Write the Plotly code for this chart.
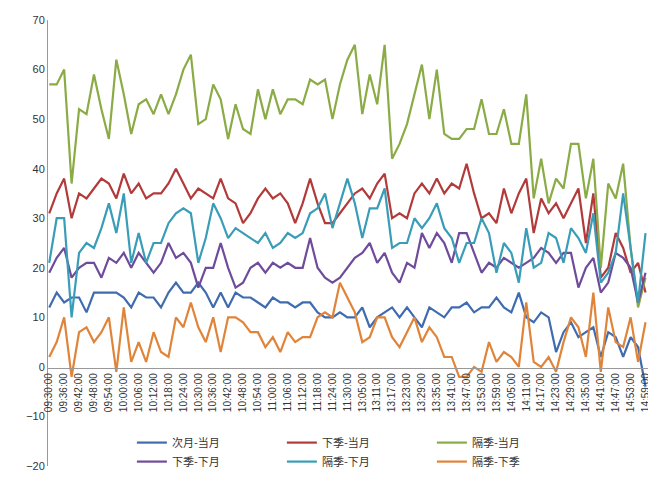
import plotly.graph_objects as go

# trading minutes 09:30-11:30, 13:00-14:59
times = []
for m in range(9 * 60 + 30, 11 * 60 + 31):
    times.append("%02d:%02d:00" % (m // 60, m % 60))
for m in range(13 * 60, 15 * 60):
    times.append("%02d:%02d:00" % (m // 60, m % 60))

sample_times = times[::3]
tick_labels = times[::6]

next_vs_cur = [12, 15, 13, 14, 14, 11, 15, 15, 15, 15, 14, 12, 15, 14, 14, 12, 15, 17, 15, 15, 17,
               15, 12, 15, 12, 15, 14, 14, 13, 12, 14, 13, 13, 12, 13, 13, 11, 10, 10, 11, 10,
               10, 12, 8, 10, 11, 12, 10, 12, 10, 8, 12, 11, 10, 12, 12, 13, 11, 12, 12, 14,
               12, 11, 15, 10, 9, 11, 10, 3, 7, 9, 6, 7, 8, 2, 7, 6, 2, 6, 4, -4]
nextq_vs_cur = [31, 35, 38, 30, 35, 34, 36, 38, 37, 34, 39, 35, 37, 34, 35, 35, 37, 40, 37, 34, 36,
                35, 34, 38, 34, 33, 29, 31, 34, 36, 34, 35, 33, 29, 33, 38, 33, 29, 29, 31, 33,
                35, 36, 34, 37, 39, 30, 31, 30, 35, 37, 35, 38, 35, 37, 36, 41, 35, 30, 31, 29,
                36, 31, 35, 38, 27, 34, 31, 33, 30, 33, 36, 25, 35, 18, 20, 27, 24, 19, 21, 15]
farq_vs_cur = [57, 57, 60, 37, 52, 51, 59, 52, 46, 62, 55, 47, 53, 54, 51, 55, 51, 55, 60, 63, 49,
               50, 57, 54, 46, 53, 48, 47, 56, 50, 56, 51, 54, 54, 53, 58, 57, 58, 50, 57, 62,
               65, 51, 59, 53, 65, 42, 45, 49, 55, 61, 50, 60, 47, 46, 46, 48, 48, 54, 47, 47,
               52, 45, 45, 55, 34, 42, 33, 38, 36, 45, 45, 34, 42, 20, 37, 34, 41, 24, 12, 18]
nextq_vs_next = [19, 22, 24, 18, 20, 21, 21, 18, 22, 21, 23, 20, 23, 21, 19, 21, 25, 22, 23, 21, 16,
                 20, 20, 25, 20, 16, 17, 20, 21, 19, 21, 20, 21, 20, 20, 26, 20, 18, 17, 18, 20,
                 22, 23, 25, 21, 23, 19, 17, 21, 20, 27, 24, 27, 25, 21, 27, 27, 23, 19, 21, 20,
                 22, 21, 20, 21, 22, 24, 23, 21, 23, 23, 16, 20, 22, 15, 17, 23, 22, 20, 13, 19]
farq_vs_next = [21, 30, 30, 10, 23, 25, 24, 28, 33, 27, 35, 21, 27, 21, 25, 25, 29, 31, 32, 31, 21,
                26, 33, 30, 26, 28, 27, 26, 25, 27, 24, 25, 27, 26, 27, 31, 32, 35, 28, 33, 38,
                33, 26, 32, 32, 36, 24, 25, 25, 30, 28, 30, 33, 28, 26, 21, 25, 25, 30, 27, 19,
                25, 23, 17, 28, 20, 21, 27, 26, 21, 28, 26, 23, 31, 17, 19, 23, 35, 24, 13, 27]
farq_vs_nextq = [2, 5, 10, -2, 7, 8, 5, 7, 10, -1, 12, 1, 5, 1, 7, 3, 2, 10, 8, 13, 8,
                 5, 10, 3, 10, 10, 9, 7, 7, 4, 6, 3, 7, 5, 6, 6, 10, 11, 10, 17, 14,
                 11, 5, 6, 10, 10, 6, 4, 7, 10, 5, 8, 6, 2, 2, -2, -2, 0, -1, 5, 1,
                 3, 2, 0, 13, 1, 0, 2, -1, 5, 10, 8, 2, 15, -1, 12, 5, 4, 10, 1, 9]

series = [
    ("次月-当月", next_vs_cur, "#3F6CAF"),
    ("下季-当月", nextq_vs_cur, "#B23A3A"),
    ("隔季-当月", farq_vs_cur, "#8AAB45"),
    ("下季-下月", nextq_vs_next, "#6F4C9B"),
    ("隔季-下月", farq_vs_next, "#3A9DB8"),
    ("隔季-下季", farq_vs_nextq, "#E0843A"),
]

fig = go.Figure()
for name, vals, color in series:
    fig.add_trace(go.Scatter(x=sample_times, y=vals, name=name, mode="lines",
                             line=dict(color=color, width=2.2)))

fig.update_layout(
    width=656, height=479,
    margin=dict(l=40, r=16, t=12, b=11),
    plot_bgcolor="white", paper_bgcolor="white",
    font=dict(family="Noto Sans CJK SC, DejaVu Sans", size=11, color="#333"),
    showlegend=True,
    legend=dict(orientation="h", x=0.52, xanchor="center", y=0.085, yanchor="top",
                entrywidth=105, font=dict(size=11), bgcolor="rgba(0,0,0,0)",
                tracegroupgap=0),
)
fig.update_xaxes(type="category", categoryorder="array", categoryarray=times,
                 tickmode="array", tickvals=tick_labels, ticktext=tick_labels,
                 tickangle=-90, range=[-0.5, 241], showgrid=False, automargin=False,
                 showline=True, linecolor="#999", ticks="", anchor="free",
                 position=100 / 456, tickfont=dict(size=10, family="Liberation Sans"))
fig.update_yaxes(range=[-20, 70], dtick=10, showgrid=False, zeroline=False,
                 showline=True, linecolor="#999", ticks="", automargin=False,
                 tickfont=dict(size=11, family="Liberation Sans"))

fig.write_html("out.html")
